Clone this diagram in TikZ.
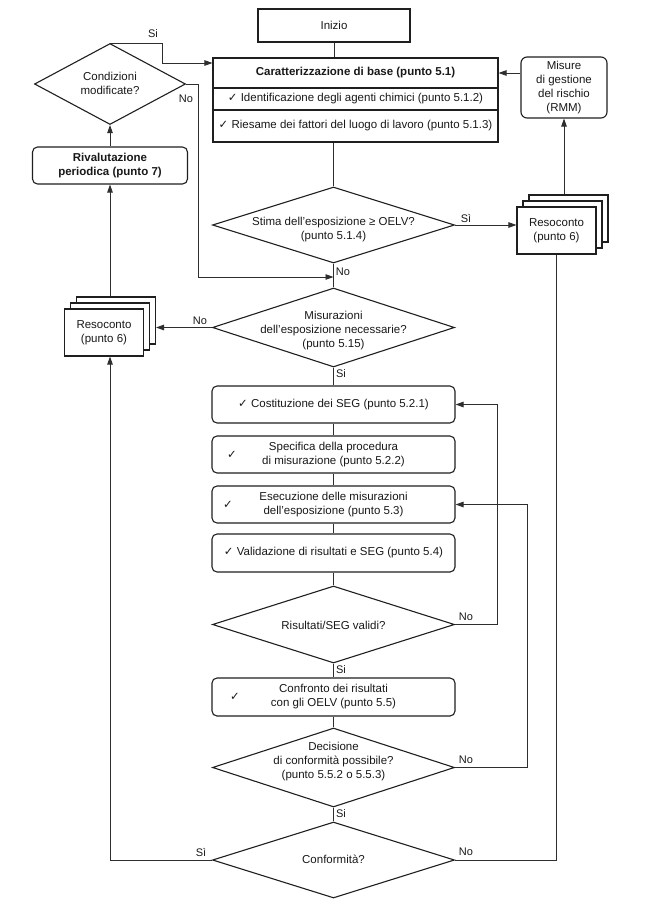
\documentclass[tikz,border=0pt]{standalone}
\usepackage{fontspec}
\setmainfont{Liberation Sans}
\newfontfamily\symf{DejaVu Sans}
\usetikzlibrary{shapes.geometric,arrows.meta,calc}
\newcommand{\ck}{{\symf ✓}}
\begin{document}
\begin{tikzpicture}[x=1pt,y=-1pt,
  every node/.style={font=\fontsize{11.5}{14}\selectfont, text=black!90, inner sep=0pt},
  shp/.style={draw=black!88, line width=1.1pt},
  sqbox/.style={shp, rectangle, minimum width=243pt, minimum height=37pt, align=center},
  rbox/.style={sqbox, rounded corners=5pt},
  dia/.style={shp, diamond, minimum width=242pt, inner sep=0pt},
  txt/.style={align=center},
  rep/.style={shp, rectangle, fill=white, minimum width=79pt, minimum height=47pt, align=center},
  conn/.style={draw=black!82, line width=0.9pt},
  arr/.style={conn, -{Triangle[length=8pt,width=5.5pt]}},
  lbl/.style={font=\fontsize{11}{13}\selectfont}
]
\useasboundingbox[fill=white] (0,0) rectangle (665,910);

% --- top
\node[sqbox, minimum width=152pt, minimum height=33pt] (inizio) at (334,25.5) {Inizio};
\node[shp, rectangle, minimum width=285pt, minimum height=30pt] (caratT) at (355.5,73) {\textbf{Caratterizzazione di base (punto 5.1)}};
\node[shp, rectangle, minimum width=285pt, minimum height=22pt] (caratA) at (355.5,99) {\ck\ Identificazione degli agenti chimici (punto 5.1.2)};
\node[shp, rectangle, minimum width=285pt, minimum height=32pt] (caratB) at (355.5,126) {\ck\ Riesame dei fattori del luogo di lavoro (punto 5.1.3)};
\node[shp, rectangle, rounded corners=6pt, minimum width=86pt, minimum height=61pt, align=center] (misure) at (564,87.5) {Misure\\di gestione\\del rischio\\(RMM)};

\node[dia, minimum width=151pt, minimum height=81pt] (cond) at (110,84) {};
\node[txt] (condT) at (110,83) {Condizioni\\modificate?};
\node[rbox, minimum width=155pt, minimum height=37pt] (rival) at (110,165.5) {\textbf{Rivalutazione}\\\textbf{periodica (punto 7)}};

% --- diamonds
\node[dia, minimum height=76pt] (stima) at (333.5,225) {};
\node[txt] (stimaT) at (333.5,230) {Stima dell’esposizione ≥ OELV?\\(punto 5.1.4)};
\node[dia, minimum height=79pt] (misur) at (333.5,327.5) {};
\node[txt] (misurT) at (333.5,330.5) {Misurazioni\\dell’esposizione necessarie?\\(punto 5.15)};

% --- report stacks
\node[rep] (rR2) at (568.5,218.5) {};
\node[rep] (rR1) at (562.5,224.5) {};
\node[rep] (rR) at (556.5,230.5) {Resoconto\\(punto 6)};
\node[rep] (rL2) at (116,320.5) {};
\node[rep] (rL1) at (110,326.5) {};
\node[rep] (rL) at (104,332.5) {Resoconto\\(punto 6)};

% --- process boxes
\node[rbox] (box1) at (333.5,404.5) {\ck\ Costituzione dei SEG (punto 5.2.1)};
\node[rbox] (box2) at (333.5,454.5) {Specifica della procedura\\di misurazione (punto 5.2.2)};
\node (ck2) at (232,454.5) {\ck};
\node[rbox] (box3) at (333.5,504.5) {Esecuzione delle misurazioni\\dell’esposizione (punto 5.3)};
\node (ck3) at (228,504.5) {\ck};
\node[rbox, minimum height=38pt] (box4) at (333.5,553) {\ck\ Validazione di risultati e SEG (punto 5.4)};
\node[dia, minimum height=77pt] (risult) at (333.5,624.5) {};
\node[txt] (risultT) at (333.5,625) {Risultati/SEG validi?};
\node[rbox, minimum height=38pt] (confr) at (333.5,697) {Confronto dei risultati\\con gli OELV (punto 5.5)};
\node (ck5) at (235,697) {\ck};
\node[dia, minimum height=79pt] (decis) at (333.5,767.5) {};
\node[txt] (decisT) at (333.5,762) {Decisione\\di conformità possibile?\\(punto 5.5.2 o 5.5.3)};
\node[dia, minimum height=76pt] (conf) at (333.5,860) {};
\node[txt] (confT) at (333.5,859) {Conformità?};

% --- main vertical connectors
\draw[conn] (inizio.south) -- (inizio.south |- caratT.north);
\draw[conn] (caratB.south -| stima.north) -- (stima.north);
\draw[conn] (stima.south) -- (misur.north);
\draw[conn] (misur.south) -- (box1.north);
\draw[conn] (box1.south) -- (box2.north);
\draw[conn] (box2.south) -- (box3.north);
\draw[conn] (box3.south) -- (box4.north);
\draw[conn] (box4.south) -- (risult.north);
\draw[conn] (risult.south) -- (confr.north);
\draw[conn] (confr.south) -- (decis.north);
\draw[conn] (decis.south) -- (conf.north);

% --- loops
\coordinate (siTurn) at (162,63);
\draw[arr] (cond.north) -| (siTurn) -- (siTurn -| caratT.west);
\coordinate (noTurn) at (198,277);
\draw[arr] (cond.east) -| (noTurn) -- (noTurn -| stima.south);
\draw[arr] (rival.north) -- (cond.south);
\draw[arr] (rL2.north -| rival.south) -- (rival.south);
\coordinate (rLbot) at (rL.south -| rival.south);
\draw[arr] (conf.west) -| (rLbot);
\draw[arr] (misur.west) -- (misur.west -| rL2.east);
\draw[arr] (stima.east) -- (stima.east -| rR.west);
\draw[arr] (rR2.north -| misure.south) -- (misure.south);
\draw[arr] (misure.west |- caratT.east) -- (caratT.east);
\draw[conn] (conf.east) -| (rR.south);
\coordinate (fb1) at (497,0);
\draw[arr] (risult.east) -| (fb1 |- box1.east) -- (box1.east);
\coordinate (fb2) at (527,0);
\draw[arr] (decis.east) -| (fb2 |- box3.east) -- (box3.east);

% --- labels
\node[lbl] (l1) at (153,34) {Si};
\node[lbl] (l2) at (186,99) {No};
\node[lbl] (l3) at (466,219) {Sì};
\node[lbl] (l4) at (343,272) {No};
\node[lbl] (l5) at (200,321) {No};
\node[lbl] (l6) at (341,374) {Si};
\node[lbl] (l7) at (466,617) {No};
\node[lbl] (l8) at (341,670) {Si};
\node[lbl] (l9) at (466,760) {No};
\node[lbl] (l10) at (341,814) {Si};
\node[lbl] (l11) at (466,852) {No};
\node[lbl] (l12) at (201,852) {Sì};
\end{tikzpicture}
\end{document}
